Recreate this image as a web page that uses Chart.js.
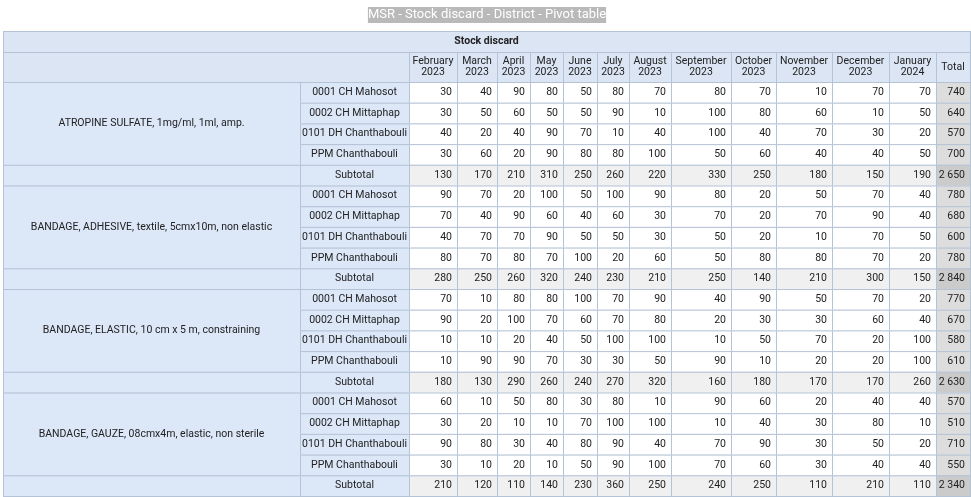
<!DOCTYPE html>
<html><head><meta charset="utf-8">
<script src="https://cdn.jsdelivr.net/npm/chart.js@4"></script>
<style>html,body{margin:0;padding:0;background:#fff;overflow:hidden}canvas{display:block}</style>
</head><body>
<canvas id="c" width="971" height="497"></canvas>
<script>
const title = "MSR - Stock discard - District - Pivot table";
const measure = "Stock discard";
const months = [["February","2023"],["March","2023"],["April","2023"],["May","2023"],["June","2023"],["July","2023"],["August","2023"],["September","2023"],["October","2023"],["November","2023"],["December","2023"],["January","2024"]];
const districts = ["0001 CH Mahosot","0002 CH Mittaphap","0101 DH Chanthabouli","PPM Chanthabouli"];
const items = ["ATROPINE SULFATE, 1mg/ml, 1ml, amp.","BANDAGE, ADHESIVE, textile, 5cmx10m, non elastic","BANDAGE, ELASTIC, 10 cm x 5 m, constraining","BANDAGE, GAUZE, 08cmx4m, elastic, non sterile"];
const atropine = [
 [30,40,90,80,50,80,70,80,70,10,70,70],
 [30,50,60,50,50,90,10,100,80,60,10,50],
 [40,20,40,90,70,10,40,100,40,70,30,20],
 [30,60,20,90,80,80,100,50,60,40,40,50]];
const atropineTotals = [740,640,570,700];
const atropineSub = [130,170,210,310,250,260,220,330,250,180,150,190,2650];
const adhesive = [
 [90,70,20,100,50,100,90,80,20,50,70,40],
 [70,40,90,60,40,60,30,70,20,70,90,40],
 [40,70,70,90,50,50,30,50,20,10,70,50],
 [80,70,80,70,100,20,60,50,80,80,70,20]];
const adhesiveTotals = [780,680,600,780];
const adhesiveSub = [280,250,260,320,240,230,210,250,140,210,300,150,2840];
const elastic = [
 [70,10,80,80,100,70,90,40,90,50,70,20],
 [90,20,100,70,60,70,80,20,30,30,60,40],
 [10,10,20,40,50,100,100,10,50,70,20,100],
 [10,90,90,70,30,30,50,90,10,20,20,100]];
const elasticTotals = [770,670,580,610];
const elasticSub = [180,130,290,260,240,270,320,160,180,170,170,260,2630];
const gauze = [
 [60,10,50,80,30,80,10,90,60,20,40,40],
 [30,20,10,10,70,100,100,10,40,30,80,10],
 [90,80,30,40,80,90,40,70,90,30,50,20],
 [30,10,20,10,50,90,100,70,60,30,40,40]];
const gauzeTotals = [570,510,710,550];
const gauzeSub = [210,120,110,140,230,360,250,240,250,110,210,110,2340];

const blocks = [[atropine,atropineTotals,atropineSub],[adhesive,adhesiveTotals,adhesiveSub],[elastic,elasticTotals,elasticSub],[gauze,gauzeTotals,gauzeSub]];
const colEdges = [3,300,409,457,497,530,563,597,629,671,731,776,832,889,936,970];
const fmt = v => v >= 1000 ? String(v).replace(/\B(?=(\d{3})+(?!\d))/g, " ") : String(v);

const tablePlugin = {
  id: 'table',
  afterDraw(chart) {
    const ctx = chart.ctx, xs = chart.scales.x, ys = chart.scales.y;
    const X = v => xs.getPixelForValue(v), Y = v => ys.getPixelForValue(v);
    const border = '#b5c3d6', hdr = '#dbe5f4', rowHdr = '#dce7f8', sub = '#f0f0f0', tot = '#dddddd', subTot = '#cbcbcb';
    function cell(x0,y0,x1,y1,bg,text,align,bold,lines){
      const px0=X(x0),py0=Y(y0),px1=X(x1),py1=Y(y1);
      ctx.fillStyle=bg; ctx.fillRect(px0,py0,px1-px0,py1-py0);
      ctx.strokeStyle=border; ctx.lineWidth=1; ctx.strokeRect(px0+0.5,py0+0.5,px1-px0,py1-py0);
      if(text==null && !lines) return;
      ctx.fillStyle='#222'; ctx.font=(bold?'bold ':'')+'10.5px Roboto';
      ctx.textBaseline='middle';
      const ls = lines || [text];
      const cy=(py0+py1)/2, lh=11;
      ls.forEach((t,i)=>{
        const yy = cy + (i-(ls.length-1)/2)*lh;
        if(align==='right'){ctx.textAlign='right';ctx.fillText(t,px1-5,yy);}
        else {ctx.textAlign='center';ctx.fillText(t,(px0+px1)/2,yy);}
      });
    }
    ctx.font='13px Roboto'; ctx.textAlign='center'; ctx.textBaseline='middle';
    const tw=ctx.measureText(title).width, tx=X(487), ty=Y(15);
    ctx.fillStyle='#fff';
    ctx.fillRect(tx-tw/2-6,Y(4),tw+12,Y(26)-Y(4));
    ctx.fillStyle='#b9b9b9'; ctx.fillRect(tx-tw/2,ty-8,tw,16);
    ctx.fillStyle='#fff'; ctx.fillText(title,tx,ty);
    cell(3,31,970,52,hdr,measure,'center',true);
    cell(3,52,409,82,hdr,null);
    months.forEach((m,i)=>cell(colEdges[i+2],52,colEdges[i+3],82,hdr,null,'center',false,m));
    cell(936,52,970,82,hdr,'Total','center');
    const rh=20.7; let y=82;
    blocks.forEach((b,bi)=>{
      const [vals,tots,subs]=b;
      cell(3,y,300,y+4*rh,rowHdr,items[bi],'center');
      vals.forEach((r,ri)=>{
        const y0=y+ri*rh,y1=y0+rh;
        cell(300,y0,409,y1,rowHdr,districts[ri],'center');
        r.forEach((v,ci)=>cell(colEdges[ci+2],y0,colEdges[ci+3],y1,'#fff',fmt(v),'right'));
        cell(936,y0,970,y1,tot,fmt(tots[ri]),'right');
      });
      y+=4*rh;
      cell(3,y,300,y+rh,rowHdr,null);
      cell(300,y,409,y+rh,rowHdr,'Subtotal','center');
      subs.forEach((v,ci)=>cell(colEdges[ci+2],y,colEdges[ci+3],y+rh,ci===12?subTot:sub,fmt(v),'right'));
      y+=rh;
    });
    cell(3,y,970,y+rh,rowHdr,null);
  }
};

new Chart(document.getElementById('c'), {
  type: 'scatter',
  data: { datasets: [{ data: [] }] },
  options: {
    responsive: false, animation: false, devicePixelRatio: 1,
    layout: { padding: 0 },
    plugins: { legend: { display: false }, tooltip: { enabled: false } },
    scales: {
      x: { type: 'linear', min: 0, max: 971, display: false },
      y: { type: 'linear', min: 0, max: 497, reverse: true, display: false }
    }
  },
  plugins: [tablePlugin]
});
</script>
</body></html>
